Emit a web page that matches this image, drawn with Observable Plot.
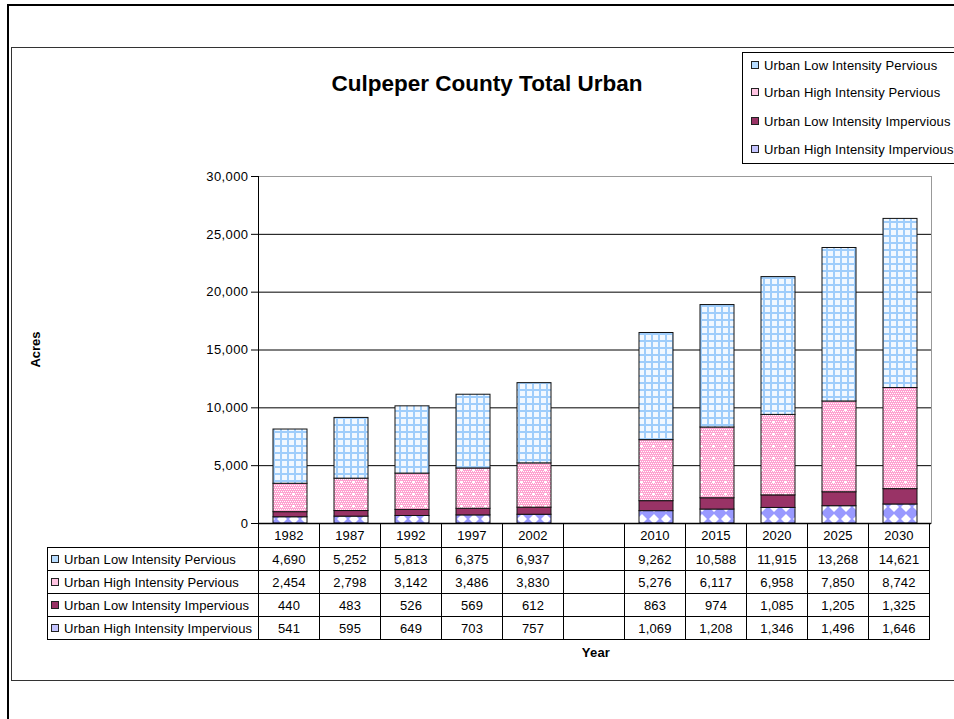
<!DOCTYPE html>
<html><head><meta charset="utf-8">
<script src="https://cdn.jsdelivr.net/npm/d3@7"></script>
<script src="https://cdn.jsdelivr.net/npm/@observablehq/plot@0.6"></script>
<style>
body{margin:0;background:#fff;font-family:"Liberation Sans",Arial,sans-serif;color:#000;}
#page{position:relative;width:954px;height:719px;overflow:hidden;background:#fff;}
.abs{position:absolute;}
#outer{left:7px;top:4px;width:1000px;height:800px;border-top:2px solid #000;border-left:2px solid #000;}
#inner{left:11px;top:47px;width:1000px;height:632px;border:1.5px solid #333;}
#title{left:187px;top:71px;width:600px;text-align:center;font-weight:bold;font-size:22.5px;line-height:26px;}
#legend{left:742px;top:52px;width:240px;height:110px;border:1px solid #000;background:#fff;font-size:13px;letter-spacing:0.15px;}
.lg{position:absolute;left:8px;height:15px;line-height:15px;white-space:nowrap;}
.sw{display:inline-block;width:6px;height:6px;border:1px solid #222;margin-right:5px;vertical-align:1px;}
#acres{left:5px;top:342px;width:60px;text-align:center;font-weight:bold;font-size:13px;transform:rotate(-90deg);}
#year{left:566px;top:645px;width:60px;text-align:center;font-weight:bold;font-size:13px;letter-spacing:0.2px;}
#chart{left:0;top:165px;}
#tbl{position:absolute;left:47px;top:523px;border-collapse:collapse;font-size:13px;letter-spacing:0.15px;table-layout:fixed;}
#tbl td{border:1px solid #000;padding:0;text-align:center;white-space:nowrap;overflow:hidden;}
#tbl td.lab{text-align:left;padding-left:3px;letter-spacing:0.1px;}
#tbl tr.hd td{height:23px;}
#tbl tr.rw td{height:22px;}
#tbl td.blank{border:none;}
#axisline{position:absolute;width:1px;background:#000;}
</style></head>
<body><div id="page">
<div id="outer" class="abs"></div>
<div id="inner" class="abs"></div>
<div id="title" class="abs">Culpeper County Total Urban</div>
<div id="acres" class="abs">Acres</div>
<div id="chart" class="abs"></div>
<div id="year" class="abs">Year</div>
<div id="legend" class="abs"></div>
</div>
<script>
const categories = ["1982","1987","1992","1997","2002"," ","2010","2015","2020","2025","2030"];
const seriesNames = ["Urban Low Intensity Pervious","Urban High Intensity Pervious","Urban Low Intensity Impervious","Urban High Intensity Impervious"];
const lowPervious   = [4690,5252,5813,6375,6937,null,9262,10588,11915,13268,14621];
const highPervious  = [2454,2798,3142,3486,3830,null,5276,6117,6958,7850,8742];
const lowImpervious = [440,483,526,569,612,null,863,974,1085,1205,1325];
const highImpervious= [541,595,649,703,757,null,1069,1208,1346,1496,1646];
const yTicks = [0,5000,10000,15000,20000,25000,30000];

const seriesValues = {
  "Urban Low Intensity Pervious": lowPervious,
  "Urban High Intensity Pervious": highPervious,
  "Urban Low Intensity Impervious": lowImpervious,
  "Urban High Intensity Impervious": highImpervious
};
const patternFills = ["url(#pLowPerv)","url(#pHighPerv)","#993366","url(#pHighImp)"];
const swatchColors = ["#b7dcff","#ffc4e2","#993366","#c4c4ff"];
const stackOrder = ["Urban High Intensity Impervious","Urban Low Intensity Impervious","Urban High Intensity Pervious","Urban Low Intensity Pervious"];

const rows = [];
categories.forEach((c,i)=>{
  stackOrder.forEach(s=>{
    const v = seriesValues[s][i];
    if (v != null) rows.push({year:c, series:s, value:v});
  });
});

const W = 954, H = 360;
const plot = Plot.plot({
  width: W, height: H,
  marginLeft: 258, marginRight: 23, marginTop: 11, marginBottom: 2,
  x: {domain: categories, paddingInner: 0.45, paddingOuter: 0.225, axis: null},
  y: {domain: [0,30000], ticks: yTicks, tickFormat: d3.format(","), tickSize: 7, tickPadding: 3, label: null},
  color: {type: "ordinal", domain: seriesNames, range: patternFills},
  style: {fontFamily: '"Liberation Sans",Arial,sans-serif', fontSize: "13px", color: "#000", background: "transparent", overflow: "visible", letterSpacing: "0.4px"},
  marks: [
    Plot.frame({stroke: "#999"}),
    Plot.ruleY(yTicks.filter(t => t > 0 && t < 30000), {stroke: "#000", strokeWidth: 1}),
    Plot.axisY({ticks: yTicks, tickFormat: d3.format(","), tickSize: 7, tickPadding: 3, label: null, fontSize: 13}),
    Plot.barY(rows, {x: "year", y: "value", fill: "series", stroke: "#111", strokeWidth: 1}),
    Plot.ruleY([0], {stroke: "#000", strokeWidth: 1.5})
  ]
});

// pattern definitions
const svg = d3.select(plot.tagName.toLowerCase() === "svg" ? plot : plot.querySelector("svg"));
const defs = svg.insert("defs", ":first-child");
// blue grid
const p1 = defs.append("pattern").attr("id","pLowPerv").attr("patternUnits","userSpaceOnUse").attr("width",7).attr("height",7);
p1.append("rect").attr("width",7).attr("height",7).attr("fill","#f2f8ff");
p1.append("rect").attr("width",7).attr("height",2).attr("fill","#9fcdfb");
p1.append("rect").attr("width",2).attr("height",7).attr("fill","#9fcdfb");
// pink dotted with crosses
const p2 = defs.append("pattern").attr("id","pHighPerv").attr("patternUnits","userSpaceOnUse").attr("width",12).attr("height",12);
p2.append("rect").attr("width",12).attr("height",12).attr("fill","#ffa3d1");
for (let i=0;i<12;i+=2) for (let j=0;j<12;j+=2) p2.append("rect").attr("x",i+((j/2)%2)).attr("y",j).attr("width",1).attr("height",1).attr("fill","#fff");
p2.append("rect").attr("x",5).attr("y",4).attr("width",1).attr("height",3).attr("fill","#fff");
p2.append("rect").attr("x",4).attr("y",5).attr("width",3).attr("height",1).attr("fill","#fff");
// lavender diamonds
const p3 = defs.append("pattern").attr("id","pHighImp").attr("patternUnits","userSpaceOnUse").attr("width",12).attr("height",12);
p3.append("rect").attr("width",12).attr("height",12).attr("fill","#9999ff");
p3.append("polygon").attr("points","6,1 11,6 6,11 1,6").attr("fill","#fff");

document.getElementById("chart").appendChild(plot);

// left axis line (black) over the frame
const xs = plot.scale("x"), ys = plot.scale("y");
const axl = document.createElement("div");
axl.id = "axisline";
axl.style.left = (xs.range[0] - 0.5) + "px";
axl.style.top = (165 + ys.range[1]) + "px";
axl.style.height = (ys.range[0] - ys.range[1]) + "px";
document.getElementById("page").appendChild(axl);

// legend
const legend = d3.select("#legend");
const legendTops = [5, 32, 61, 89];
seriesNames.forEach((s,i)=>{
  const d = legend.append("div").attr("class","lg").style("top", legendTops[i]+"px");
  d.append("span").attr("class","sw").style("background", swatchColors[i]);
  d.append("span").text(s);
});

// data table aligned to x scale
const step = xs.step;
const labelW = xs.range[0] - 47;
const tbl = d3.select("#page").append("table").attr("id","tbl");
const cg = tbl.append("colgroup");
cg.append("col").style("width", labelW+"px");
categories.forEach(()=>cg.append("col").style("width", step+"px"));
tbl.style("width", (labelW + step*categories.length)+"px");
const hr = tbl.append("tr").attr("class","hd");
hr.append("td").attr("class","blank");
categories.forEach(c=>hr.append("td").text(c.trim()));
const fmt = d3.format(",");
seriesNames.forEach((s,i)=>{
  const tr = tbl.append("tr").attr("class","rw");
  const lab = tr.append("td").attr("class","lab");
  lab.append("span").attr("class","sw").style("background", swatchColors[i]);
  lab.append("span").text(s);
  seriesValues[s].forEach(v=>tr.append("td").text(v==null ? "" : fmt(v)));
});
</script>
</body></html>
